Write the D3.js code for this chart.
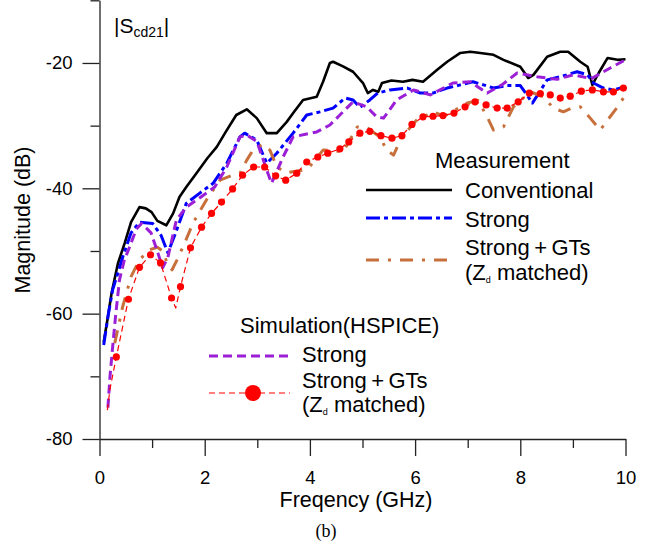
<!DOCTYPE html>
<html>
<head>
<meta charset="utf-8">
<script src="https://cdn.jsdelivr.net/npm/d3@7"></script>
<style>
  body { margin: 0; background: #fff; }
  svg { display: block; }
  text { font-family: Arial, "Liberation Sans", sans-serif; fill: #000; }
</style>
</head>
<body>
<svg id="chart" width="652" height="550"></svg>
<script>
// |Scd21| magnitude vs frequency (GHz, dB)
const conventional = [
  [0.08, -64.5], [0.15, -61], [0.23, -56.7], [0.35, -52], [0.48, -48.7], [0.6, -45.4],
  [0.76, -43.0], [0.88, -43.2], [0.99, -43.8], [1.1, -45.2], [1.27, -45.9], [1.4, -44],
  [1.52, -41.4], [1.65, -39.8], [1.85, -37.5], [2.05, -35.2], [2.23, -33.4], [2.4, -31],
  [2.6, -28.3], [2.8, -27.4], [2.99, -28.8], [3.18, -31.2], [3.37, -31.2], [3.56, -29.4],
  [3.7, -27.8], [3.87, -25.9], [4.13, -25.4], [4.25, -23], [4.38, -20], [4.44, -19.8],
  [4.62, -20.5], [4.82, -21.4], [5.01, -23.2], [5.1, -24.8], [5.2, -24.3], [5.3, -24.6],
  [5.37, -23.2], [5.55, -22.8], [5.77, -23], [5.95, -22.7], [6.15, -23], [6.42, -21.1],
  [6.61, -19.8], [6.86, -18.4], [7.05, -18.2], [7.24, -18.4], [7.49, -18.7], [7.68, -19.5],
  [8.0, -20.6], [8.15, -22.4], [8.25, -21.9], [8.51, -19], [8.76, -18.2], [8.91, -18.2],
  [9.14, -19.8], [9.28, -20.6], [9.37, -23.5], [9.49, -21.6], [9.66, -19.2], [9.85, -19.5],
  [10, -19.4]
];

const strongMeas = [
  [0.08, -65], [0.17, -60], [0.25, -56.2], [0.35, -53.5], [0.44, -51], [0.6, -47.1],
  [0.76, -45.4], [1.01, -45.6], [1.17, -47.5], [1.3, -50.3], [1.43, -47.5], [1.65, -42.4],
  [1.9, -40.8], [2.16, -39.2], [2.42, -36], [2.67, -31.8], [2.76, -31.2], [2.99, -32.3],
  [3.18, -36], [3.37, -34.4], [3.68, -31.2], [3.94, -28.3], [4.19, -27.8], [4.44, -27.2],
  [4.67, -25.6], [4.82, -25.9], [4.95, -27.1], [5.14, -25.9], [5.29, -24.8], [5.52, -24.3],
  [5.85, -24], [6.1, -24.8], [6.34, -24.8], [6.61, -24], [6.86, -23.5], [7.1, -23],
  [7.3, -23.5], [7.49, -24], [7.75, -23.6], [8.0, -23.6], [8.1, -24.8], [8.23, -26.4],
  [8.33, -25.1], [8.51, -22.7], [8.76, -22.2], [9.08, -21.4], [9.28, -21.9], [9.39, -23.2],
  [9.58, -24], [9.77, -24.3], [10, -23.8]
];

const strongGTsMeas = [
  [0.29, -64.7], [0.44, -58.9], [0.6, -54.1], [0.76, -51.4], [0.95, -49.8], [1.1, -49.4],
  [1.2, -50], [1.3, -52.2], [1.38, -53], [1.47, -51.5], [1.62, -48.7], [1.78, -45.5],
  [2.03, -41.9], [2.29, -38.7], [2.5, -38], [2.67, -37.6], [2.8, -35.5], [2.91, -34],
  [3.1, -33], [3.24, -33.9], [3.37, -36.6], [3.55, -37.5], [3.87, -37.1], [4.0, -36.5],
  [4.25, -33.9], [4.45, -34], [4.63, -34.2], [4.9, -30.2], [5.1, -30.4], [5.33, -31.8],
  [5.46, -33.9], [5.59, -34.7], [5.75, -31.8], [6.03, -29.1], [6.35, -27.8], [6.55, -28.5],
  [6.99, -26.4], [7.2, -26], [7.37, -28.6], [7.49, -30.7], [7.68, -30.2], [7.87, -27],
  [8.19, -24.6], [8.44, -25.4], [8.63, -27.2], [8.82, -27.8], [8.98, -27.2], [9.14, -27],
  [9.33, -28.8], [9.52, -30.7], [9.66, -29.1], [9.85, -27], [10, -25.1]
];

const strongSim = [
  [0.16, -75], [0.2, -70], [0.25, -65.3], [0.31, -60], [0.38, -54.6], [0.47, -51.5],
  [0.57, -49.4], [0.7, -46.5], [0.8, -45.6], [0.98, -47.1], [1.11, -50.3], [1.2, -52.7],
  [1.3, -51], [1.46, -45.1], [1.65, -43], [1.84, -41.9], [2.19, -39.8], [2.42, -36.6],
  [2.67, -31.8], [2.8, -31.5], [2.99, -32.5], [3.18, -37.1], [3.27, -39.2], [3.49, -35],
  [3.68, -31.8], [4.13, -31], [4.38, -29.9], [4.57, -28.3], [4.82, -26.2], [5.08, -27],
  [5.27, -28.6], [5.4, -28.8], [5.65, -25.9], [5.97, -24.3], [6.29, -25.1], [6.72, -23.2],
  [7.05, -23], [7.37, -24.8], [7.65, -23.5], [7.94, -21.6], [8.32, -22.2], [8.7, -22.6],
  [9.0, -21.9], [9.35, -22.5], [9.71, -20.8], [10, -19.5]
];

// simulated Strong+GTs: markers, plus the extra line-only points (start, dip, end)
const strongGTsSimDots = [
  [0.32, -66.9], [0.55, -57.7], [0.76, -52.6], [0.97, -50.6], [1.16, -51.9], [1.37, -57.5],
  [1.54, -55.7], [1.73, -49.5], [1.94, -46.2], [2.13, -44.0], [2.32, -42.2], [2.53, -40.1],
  [2.72, -37.9], [2.93, -36.6], [3.14, -36.6], [3.35, -38.0], [3.54, -38.7], [3.75, -37.6],
  [3.94, -35.8], [4.15, -35.0], [4.34, -34.4], [4.57, -33.7], [4.74, -32.6], [4.95, -31.2],
  [5.14, -30.9], [5.35, -31.6], [5.56, -32.0], [5.75, -31.6], [5.94, -29.8], [6.15, -28.6],
  [6.34, -28.5], [6.53, -28.4], [6.74, -28.0], [6.95, -27.0], [7.14, -26.2], [7.35, -26.7],
  [7.56, -27.2], [7.75, -27.2], [7.96, -26.2], [8.17, -24.8], [8.38, -24.9], [8.57, -25.1],
  [8.76, -25.6], [8.95, -25.3], [9.16, -24.5], [9.37, -24.3], [9.58, -24.6], [9.77, -24.6],
  [9.96, -24.0]
];
const strongGTsSimExtra = [[0.15, -75.4], [0.2, -72], [1.45, -59.1], [10, -23.7]];

const xMajor = [0, 2, 4, 6, 8, 10];
const xMinor = [1, 3, 5, 7, 9];
const yMajor = [-20, -40, -60, -80];
const yMinor = [-10, -30, -50, -70];

const svg = d3.select("#chart");

const x = d3.scaleLinear().domain([0, 10]).range([99.5, 625.5]);
const y = d3.scaleLinear().domain([-80, -10]).range([439, 0.3]);

/** styled axis group: thin dark strokes, big Arial labels */
function styleAxis(sel) {
  sel.selectAll("path, line").attr("stroke", "#222").attr("stroke-width", 1.3);
  sel.selectAll("text").style("font-size", "18.5px").attr("fill", "#000");
}

// x axis
svg.append("g")
  .attr("transform", `translate(0,${y(-80)})`)
  .call(d3.axisBottom(x).tickValues(xMajor).tickSize(17).tickSizeOuter(0).tickPadding(15))
  .call(styleAxis);
svg.append("g")
  .attr("transform", `translate(0,${y(-80)})`)
  .call(d3.axisBottom(x).tickValues(xMinor).tickSize(9).tickFormat(""))
  .call(g => g.select(".domain").remove())
  .call(styleAxis);

// y axis
svg.append("g")
  .attr("transform", `translate(${x(0)},0)`)
  .call(d3.axisLeft(y).tickValues(yMajor).tickSize(17).tickSizeOuter(0).tickPadding(10)
    .tickFormat(d => d))
  .call(styleAxis);
svg.append("g")
  .attr("transform", `translate(${x(0)},0)`)
  .call(d3.axisLeft(y).tickValues(yMinor).tickSize(9).tickFormat(""))
  .call(g => g.select(".domain").remove())
  .call(styleAxis);

// series
const line = d3.line().x(d => x(d[0])).y(d => y(d[1]));

const styles = {
  conventional: { stroke: "#000", width: 2.6, dash: null },
  strongMeas: { stroke: "#0000ff", width: 3, dash: "14,4,4,4" },
  strongGTsMeas: { stroke: "#c8703c", width: 3, dash: "13,9,3,9" },
  strongSim: { stroke: "#9b1fd6", width: 3, dash: "9,5" },
  strongGTsSim: { stroke: "#ff0000", width: 1.2, dash: "6,4" }
};

function drawLine(data, s) {
  svg.append("path")
    .datum(data)
    .attr("fill", "none")
    .attr("stroke", s.stroke)
    .attr("stroke-width", s.width)
    .attr("stroke-dasharray", s.dash)
    .attr("stroke-linejoin", "round")
    .attr("d", line);
}

drawLine(conventional, styles.conventional);
drawLine(strongMeas, styles.strongMeas);
drawLine(strongGTsMeas, styles.strongGTsMeas);
drawLine(strongSim, styles.strongSim);

const redLine = strongGTsSimDots.concat(strongGTsSimExtra).sort((a, b) => a[0] - b[0]);
drawLine(redLine, styles.strongGTsSim);

svg.selectAll(".dot")
  .data(strongGTsSimDots)
  .enter()
  .append("circle")
  .attr("class", "dot")
  .attr("cx", d => x(d[0]))
  .attr("cy", d => y(d[1]))
  .attr("r", 3.6)
  .attr("fill", "#ff0000");

// legend helpers
function legendLine(x1, x2, yy, s) {
  svg.append("line")
    .attr("x1", x1).attr("x2", x2).attr("y1", yy).attr("y2", yy)
    .attr("stroke", s.stroke)
    .attr("stroke-width", s.width)
    .attr("stroke-dasharray", s.dash);
}
function label(tx, ty, str) {
  return svg.append("text").attr("x", tx).attr("y", ty).style("font-size", "22px").text(str);
}
function zdMatched(tx, ty) {
  const t = svg.append("text").attr("x", tx).attr("y", ty).style("font-size", "22px");
  t.append("tspan").text("(Z");
  t.append("tspan").attr("dy", 3).style("font-size", "9px").text("d");
  t.append("tspan").attr("dy", -3).text(" matched)");
}

// measurement legend
label(435, 168, "Measurement");
legendLine(366, 452, 190, styles.conventional);
label(465, 198, "Conventional");
legendLine(366, 452, 218, styles.strongMeas);
label(465, 227, "Strong");
legendLine(366, 452, 260, styles.strongGTsMeas);
label(465, 255, "Strong\u2009+\u2009GTs");
zdMatched(465, 280);

// simulation legend
label(240, 333, "Simulation(HSPICE)");
legendLine(209, 290, 356, styles.strongSim);
label(302, 362, "Strong");
legendLine(209, 290, 393, styles.strongGTsSim);
svg.append("circle").attr("cx", 253).attr("cy", 393).attr("r", 8).attr("fill", "#ff0000");
label(302, 388, "Strong\u2009+\u2009GTs");
zdMatched(302, 412);

// |Scd21| tag
const tag = svg.append("text").attr("x", 114).attr("y", 33).style("font-size", "21px");
tag.append("tspan").text("|S");
tag.append("tspan").attr("dy", 4).style("font-size", "14px").text("cd21");
tag.append("tspan").attr("dy", -4).text("|");

// axis titles
svg.append("text")
  .attr("x", 356).attr("y", 507)
  .style("text-anchor", "middle").style("font-size", "21.5px")
  .text("Freqency (GHz)");
svg.append("text")
  .attr("transform", "translate(30,220) rotate(-90)")
  .style("text-anchor", "middle").style("font-size", "21.5px")
  .text("Magnitude (dB)");

svg.append("text")
  .attr("x", 326).attr("y", 537)
  .style("text-anchor", "middle").style("font-size", "18px")
  .style("font-family", "'Liberation Serif', 'Times New Roman', serif")
  .text("(b)");
</script>
</body>
</html>
